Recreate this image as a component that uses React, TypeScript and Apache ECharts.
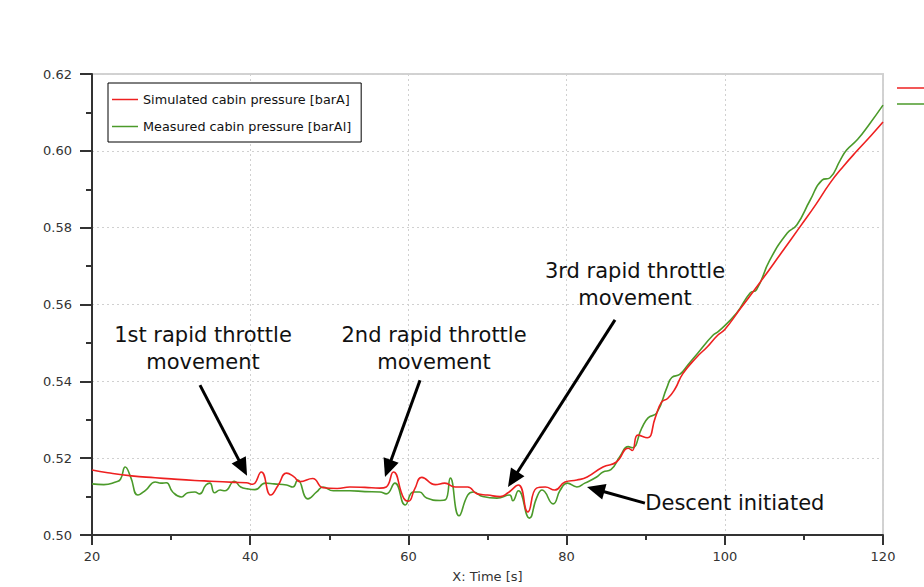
import React, { useEffect, useRef } from "react";
import * as echarts from "echarts";

// Simulated cabin pressure [barA]
const simTime = [20, 22, 25, 28, 30, 33, 35, 38, 39.5, 40.3, 41.4, 42.6, 43.5, 44.6, 45.5, 46.3, 47.9, 49.2, 51, 52.6, 54.5, 56.4, 57.2, 58.1, 59.4, 60, 60.8, 61.7, 63.4, 64.6, 65.9, 67.5, 68.7, 70, 71.6, 72.6, 73.9, 75.1, 76.2, 77.3, 78.5, 79.8, 81.3, 82.6, 84.6, 86.3, 87.8, 88.3, 89, 90.2, 91.2, 92, 92.8, 93.7, 94.7, 96.5, 97.8, 99.1, 100, 102, 104.4, 107, 109.5, 111.5, 113.3, 115, 116.8, 118.5, 120];
const simPressure = [0.5169, 0.5162, 0.5154, 0.5149, 0.5146, 0.5142, 0.514, 0.5137, 0.5136, 0.5132, 0.5164, 0.5104, 0.5128, 0.5161, 0.5152, 0.5139, 0.5147, 0.5123, 0.5121, 0.5125, 0.5124, 0.5122, 0.5125, 0.5164, 0.5096, 0.5088, 0.512, 0.515, 0.5131, 0.5135, 0.5125, 0.5125, 0.5107, 0.5104, 0.51, 0.511, 0.513, 0.506, 0.5122, 0.5125, 0.5117, 0.5138, 0.5143, 0.5151, 0.5177, 0.519, 0.5226, 0.522, 0.526, 0.5253, 0.5305, 0.5346, 0.5356, 0.538, 0.542, 0.5464, 0.549, 0.552, 0.5535, 0.559, 0.5656, 0.573, 0.5802, 0.586, 0.5916, 0.596, 0.6002, 0.604, 0.6075];

// Measured cabin pressure [barAl]
const measTime = [20, 21.5, 23, 23.6, 24.2, 24.9, 25.8, 26.8, 28, 28.7, 29.4, 30.2, 31.3, 32.1, 33, 33.6, 34.4, 34.9, 35.5, 36.2, 36.8, 38, 38.8, 39.7, 40.6, 41.9, 43, 44.6, 45.4, 46, 47.3, 48.4, 49.2, 50.5, 52.6, 54.5, 56.4, 57.2, 58.3, 59.6, 60.6, 61.4, 62.3, 64, 64.7, 65.3, 66.4, 67.5, 68.2, 69.4, 71.2, 72.8, 73.2, 73.9, 75.3, 76.2, 76.9, 78.3, 79.2, 80.1, 81.3, 82.3, 83.8, 84.6, 85.6, 86.7, 87.8, 88.3, 89.5, 90.3, 91.4, 92.7, 93.3, 94.3, 95.3, 96.6, 98.5, 99.2, 101.5, 103.2, 104, 105.7, 107.9, 109.1, 110.8, 112.3, 113.3, 114.6, 115.4, 116.8, 118.3, 120];
const measPressure = [0.5133, 0.5131, 0.5138, 0.5145, 0.5177, 0.515, 0.5104, 0.5117, 0.5138, 0.5135, 0.5136, 0.5112, 0.5099, 0.511, 0.5112, 0.5107, 0.513, 0.5135, 0.511, 0.5117, 0.5115, 0.514, 0.5125, 0.512, 0.5118, 0.5135, 0.5133, 0.513, 0.5125, 0.5143, 0.5094, 0.5112, 0.5125, 0.5115, 0.5115, 0.5113, 0.5112, 0.5107, 0.5135, 0.5078, 0.5112, 0.5112, 0.5096, 0.509, 0.5092, 0.5148, 0.505, 0.5104, 0.5112, 0.51, 0.5096, 0.5104, 0.5089, 0.5115, 0.5044, 0.5096, 0.5117, 0.5081, 0.5117, 0.5135, 0.5125, 0.5135, 0.5151, 0.5164, 0.517, 0.5203, 0.523, 0.5227, 0.5278, 0.5305, 0.5318, 0.5385, 0.541, 0.5418, 0.5442, 0.5474, 0.552, 0.553, 0.5578, 0.563, 0.5638, 0.5716, 0.5786, 0.5807, 0.5872, 0.5924, 0.593, 0.5976, 0.6002, 0.603, 0.607, 0.6119];

const seriesNames = ["Simulated cabin pressure [barA]", "Measured cabin pressure [barAl]"];
const seriesColors = ["#ee2020", "#4b9a2a"];

// Annotations in data coordinates: label, text anchor, arrow start, arrow tip
const annotationLabels = ["1st rapid throttle\nmovement", "2nd rapid throttle\nmovement", "3rd rapid throttle\nmovement", "Descent initiated"];
const annotationTextAt = [[34.03, 0.5486], [63.24, 0.5486], [88.65, 0.5651], [89.95, 0.5083]];
const arrowFrom = [[33.65, 0.539], [61.47, 0.5403], [86.12, 0.556], [89.9, 0.5083]];
const arrowTo = [[39.6, 0.5154], [57.04, 0.5151], [72.59, 0.5125], [82.58, 0.5125]];

export default function App() {
  const ref = useRef<HTMLDivElement>(null);

  useEffect(() => {
    if (!ref.current) return;
    const chart = echarts.init(ref.current, undefined, { renderer: "svg" });
    const font = "DejaVu Sans";
    const sim = simTime.map((t, i) => [t, simPressure[i]]);
    const meas = measTime.map((t, i) => [t, measPressure[i]]);

    chart.setOption({
      animation: false,
      backgroundColor: "#ffffff",
      grid: {
        left: 92,
        right: 41,
        top: 74,
        bottom: 52,
        containLabel: false,
        outerBoundsMode: "none",
        show: true,
        borderColor: "#d2d2d2",
        borderWidth: 2,
        backgroundColor: "transparent",
      },
      legend: {
        orient: "vertical",
        left: 108,
        top: 83,
        backgroundColor: "#ffffff",
        borderColor: "#000000",
        borderWidth: 1,
        borderRadius: 0,
        padding: [10, 10, 9, 4],
        itemWidth: 26,
        itemHeight: 14,
        itemGap: 14,
        icon: "path://M0,0H26V1.5H0Z",
        textStyle: { fontFamily: font, fontSize: 12.8, color: "#111" },
        data: seriesNames,
      },
      xAxis: {
        type: "value",
        min: 20,
        max: 120,
        interval: 20,
        name: "X: Time [s]",
        nameLocation: "middle",
        nameGap: 35,
        nameTextStyle: { fontFamily: font, fontSize: 13, color: "#333" },
        axisLine: { lineStyle: { color: "#333", width: 2 } },
        axisTick: { length: 10, lineStyle: { color: "#333", width: 2 } },
        minorTick: { show: true, splitNumber: 2, length: 5, lineStyle: { color: "#333", width: 2 } },
        axisLabel: { fontFamily: font, fontSize: 13, color: "#333", margin: 15 },
        splitLine: { show: true, lineStyle: { color: "#d0d0d0", type: [2, 3], width: 1 } },
      },
      yAxis: {
        type: "value",
        min: 0.5,
        max: 0.62,
        interval: 0.02,
        axisLine: { show: true, lineStyle: { color: "#333", width: 2 } },
        axisTick: { show: true, length: 12, lineStyle: { color: "#333", width: 2 } },
        minorTick: { show: true, splitNumber: 2, length: 6, lineStyle: { color: "#333", width: 2 } },
        axisLabel: {
          fontFamily: font,
          fontSize: 13,
          color: "#333",
          margin: 20,
          formatter: (v: number) => v.toFixed(2),
        },
        splitLine: { show: true, lineStyle: { color: "#d0d0d0", type: [2, 3], width: 1 } },
      },
      series: [
        {
          name: seriesNames[0],
          type: "line",
          data: sim,
          smooth: 0.5,
          symbol: "none",
          color: seriesColors[0],
          lineStyle: { color: seriesColors[0], width: 1.6 },
          z: 3,
        },
        {
          name: seriesNames[1],
          type: "line",
          data: meas,
          smooth: 0.5,
          symbol: "none",
          color: seriesColors[1],
          lineStyle: { color: seriesColors[1], width: 1.6 },
          z: 2,
        },
      ],
    });

    const px = (p: number[]) => chart.convertToPixel({ gridIndex: 0 }, p) as number[];
    const graphics: any[] = [];
    annotationLabels.forEach((label, i) => {
      const tp = px(annotationTextAt[i]);
      const isLeft = i === 3;
      graphics.push({
        type: "text",
        x: tp[0],
        y: tp[1],
        z: 10,
        style: {
          text: label,
          fill: "#111",
          font: `21px "${font}"`,
          align: isLeft ? "left" : "center",
          verticalAlign: "middle",
          lineHeight: 27,
        },
      });
      const a = px(arrowFrom[i]);
      const b = px(arrowTo[i]);
      const dx = b[0] - a[0];
      const dy = b[1] - a[1];
      const len = Math.sqrt(dx * dx + dy * dy);
      const ux = dx / len;
      const uy = dy / len;
      const headLen = 18;
      const headHalf = 8;
      const bx = b[0] - ux * headLen;
      const by = b[1] - uy * headLen;
      graphics.push({
        type: "line",
        z: 10,
        shape: { x1: a[0], y1: a[1], x2: bx + ux * 2, y2: by + uy * 2 },
        style: { stroke: "#000", lineWidth: 3 },
      });
      graphics.push({
        type: "polygon",
        z: 10,
        shape: {
          points: [
            [b[0], b[1]],
            [bx - uy * headHalf, by + ux * headHalf],
            [bx + uy * headHalf, by - ux * headHalf],
          ],
        },
        style: { fill: "#000" },
      });
    });
    // cut-off second legend at the right edge
    graphics.push({ type: "line", shape: { x1: 897, y1: 88, x2: 924, y2: 88 }, style: { stroke: seriesColors[0], lineWidth: 1.5 } });
    graphics.push({ type: "line", shape: { x1: 897, y1: 104, x2: 924, y2: 104 }, style: { stroke: seriesColors[1], lineWidth: 1.5 } });
    chart.setOption({ graphic: graphics });

    return () => chart.dispose();
  }, []);

  return (
    <div
      ref={ref}
      style={{ position: "fixed", left: 0, top: 0, width: 924, height: 587, background: "#fff" }}
    />
  );
}
